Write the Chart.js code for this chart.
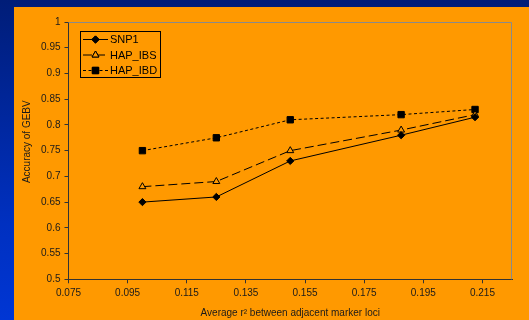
<!DOCTYPE html>
<html>
<head>
<meta charset="utf-8">
<script src="https://cdn.jsdelivr.net/npm/chart.js@4"></script>
<style>
  html, body { margin: 0; padding: 0; }
  body {
    width: 529px; height: 320px; overflow: hidden; position: relative;
    background: linear-gradient(to bottom, #001d78 0%, #0030c0 70%, #0036d4 100%);
  }
  #wrap { position: absolute; left: 14px; top: 7px; width: 515px; height: 313px; background: #ff9900; }
</style>
</head>
<body>
<div id="wrap"><canvas id="accChart" width="515" height="313"></canvas></div>
<script>
// average r^2 between adjacent loci (x) and accuracy of GEBV (y)
const rSquared = [0.1, 0.125, 0.15, 0.1875, 0.2125];
const snp1 = [0.65, 0.66, 0.73, 0.78, 0.815];
const hapIbs = [0.68, 0.69, 0.75, 0.79, 0.82];
const hapIbd = [0.75, 0.775, 0.81, 0.82, 0.83];
const seriesNames = ['SNP1', 'HAP_IBS', 'HAP_IBD'];
const xTicks = [0.075, 0.095, 0.115, 0.135, 0.155, 0.175, 0.195, 0.215];
const yTicks = [0.5, 0.55, 0.6, 0.65, 0.7, 0.75, 0.8, 0.85, 0.9, 0.95, 1];
const yTitle = 'Accuracy of GEBV';

const FONT = '"Liberation Sans", Arial, sans-serif';
const toPoints = ys => ys.map((y, i) => ({ x: rSquared[i], y: y }));
const fmt = v => String(Number(v.toFixed(4)));

const styles = [
  { dash: [], point: 'rectRot', radius: 3.6, fill: '#000' },
  { dash: [9, 4], point: 'triangle', radius: 4, fill: '#ff9900' },
  { dash: [3, 2.5], point: 'rect', radius: 4.5, fill: '#000' }
];

const datasets = [snp1, hapIbs, hapIbd].map((vals, i) => ({
  label: seriesNames[i],
  data: toPoints(vals),
  showLine: true,
  borderColor: '#000',
  borderWidth: 1,
  borderDash: styles[i].dash,
  pointStyle: styles[i].point,
  pointRadius: styles[i].radius,
  pointBackgroundColor: styles[i].fill,
  pointBorderColor: '#000',
  pointBorderWidth: 1
}));

// gray top/right frame, y title and boxed legend inside the plot
const framePlugin = {
  id: 'frame',
  beforeDatasetsDraw(chart) {
    const { ctx, chartArea: a } = chart;
    ctx.save();
    ctx.strokeStyle = '#8a8a8a';
    ctx.lineWidth = 1;
    ctx.beginPath();
    ctx.moveTo(a.left, a.top + 0.5);
    ctx.lineTo(a.right - 0.5, a.top + 0.5);
    ctx.lineTo(a.right - 0.5, a.bottom);
    ctx.stroke();

    ctx.translate(13, 134.7);
    ctx.rotate(-Math.PI / 2);
    ctx.font = '10px ' + FONT;
    ctx.fillStyle = '#1a1a1a';
    ctx.textAlign = 'center';
    ctx.textBaseline = 'middle';
    ctx.fillText(yTitle, 0, 0);
    ctx.restore();
  },
  afterDraw(chart) {
    const { ctx } = chart;
    ctx.save();
    ctx.strokeStyle = '#000';
    ctx.lineWidth = 1;
    ctx.strokeRect(66.5, 24.5, 80, 46);
    ctx.font = '11px ' + FONT;
    ctx.textBaseline = 'middle';
    ctx.fillStyle = '#000';
    seriesNames.forEach((name, i) => {
      const y = 32.5 + i * 15.5;
      ctx.setLineDash(styles[i].dash);
      ctx.beginPath();
      ctx.moveTo(69, y);
      ctx.lineTo(94, y);
      ctx.stroke();
      ctx.setLineDash([]);
      Chart.helpers.drawPoint(ctx, {
        pointStyle: styles[i].point,
        radius: styles[i].radius,
        borderWidth: 1
      }, 81.5, y);
      ctx.fillStyle = styles[i].fill;
      ctx.fill();
      ctx.stroke();
      ctx.fillStyle = '#000';
      ctx.fillText(name, 96, y + 0.5);
    });
    ctx.restore();
  }
};

new Chart(document.getElementById('accChart'), {
  type: 'scatter',
  data: { datasets: datasets },
  options: {
    responsive: false,
    animation: false,
    layout: { padding: { left: 0, right: 17, top: 15, bottom: 0 } },
    plugins: { legend: { display: false }, tooltip: { enabled: false } },
    scales: {
      x: {
        min: 0.075,
        max: 0.225,
        afterBuildTicks: s => { s.ticks = xTicks.map(v => ({ value: v })); },
        afterFit: s => { s.height = 40.7; },
        grid: { drawOnChartArea: false, drawTicks: true, tickLength: 4, color: '#333' },
        border: { color: '#333', width: 1 },
        ticks: { color: '#1a1a1a', padding: 4, font: { family: FONT, size: 10 }, callback: v => fmt(v), maxRotation: 0 },
        title: { display: true, text: 'Average r\u00b2 between adjacent marker loci', color: '#1a1a1a',
                 font: { family: FONT, size: 10 }, padding: { top: 0, bottom: 1 } }
      },
      y: {
        min: 0.5,
        max: 1,
        afterBuildTicks: s => { s.ticks = yTicks.map(v => ({ value: v })); },
        afterFit: s => { s.width = 54.5; },
        grid: { drawOnChartArea: false, drawTicks: true, tickLength: 4, color: '#333' },
        border: { color: '#333', width: 1 },
        ticks: { color: '#1a1a1a', padding: 4, font: { family: FONT, size: 10 }, callback: v => fmt(v) }
      }
    }
  },
  plugins: [framePlugin]
});
</script>
</body>
</html>
